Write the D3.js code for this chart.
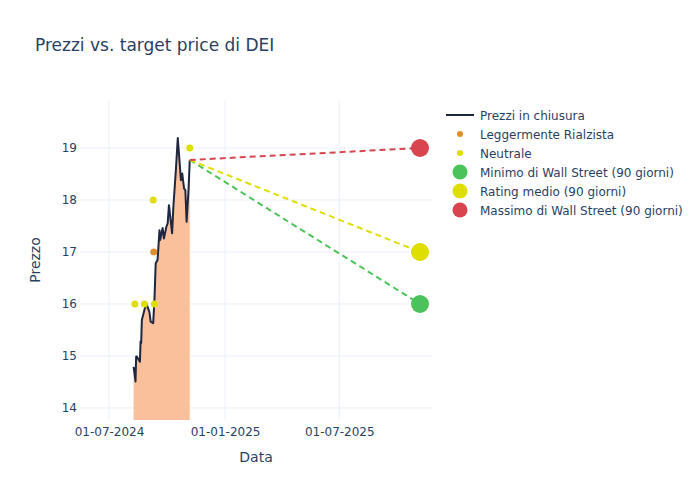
<!DOCTYPE html>
<html><head><meta charset="utf-8">
<script src="https://cdn.jsdelivr.net/npm/d3@7"></script>
<style>body{margin:0;background:#fff;} text{font-family:"DejaVu Sans",sans-serif;}</style>
</head><body><svg id="c" width="700" height="500"></svg>
<script>
const priceDates = ["2024-08-09","2024-08-12","2024-08-13","2024-08-14","2024-08-19","2024-08-20","2024-08-21","2024-08-22","2024-08-26","2024-08-29","2024-09-03","2024-09-05","2024-09-09","2024-09-11","2024-09-13","2024-09-16","2024-09-19","2024-09-20","2024-09-24","2024-09-26","2024-09-30","2024-10-02","2024-10-04","2024-10-07","2024-10-09","2024-10-11","2024-10-15","2024-10-18","2024-10-21","2024-10-23","2024-10-25","2024-10-28","2024-10-30","2024-11-01","2024-11-04","2024-11-06"];
const prices = [14.79,14.51,14.99,14.99,14.89,15.28,15.25,15.69,15.88,16.01,15.85,15.66,15.63,16.08,16.78,16.85,17.42,17.23,17.46,17.26,17.49,17.55,17.90,17.58,17.36,17.87,18.58,19.19,18.71,18.38,18.51,18.22,18.19,17.58,18.19,18.77];
const neutralDates = ["2024-08-11","2024-08-26","2024-09-11","2024-09-09","2024-11-06"];
const neutralValues = [16,16,16,18,19];
const bullishDates = ["2024-09-10"];
const bullishValues = [17];
const targetDate = "2025-11-06";
const targetNames = ["Minimo di Wall Street (90 giorni)","Rating medio (90 giorni)","Massimo di Wall Street (90 giorni)"];
const targetValues = [16,17,19];
const targetColors = ["#4cc35a","#dede00","#d8454f"];
const xTickDates = ["2024-07-01","2025-01-01","2025-07-01"];
const xTickLabels = ["01-07-2024","01-01-2025","01-07-2025"];
const yTicks = [14,15,16,17,18,19];

const P = d3.utcParse("%Y-%m-%d");
const svg = d3.select("#c");
const L=80,R=432,T=100,B=420;
const x = d3.scaleUtc().domain([P("2024-05-16"), P("2025-11-25")]).range([L,R]);
const y = d3.scaleLinear().domain([13.769,19.923]).range([B,T]);
const tc="#2a3f5f", grid="#ebf0f8";

// grid
svg.append("g").selectAll("line").data(yTicks).join("line")
  .attr("x1",L).attr("x2",R).attr("y1",d=>y(d)).attr("y2",d=>y(d)).attr("stroke",grid).attr("stroke-width",1);
svg.append("g").selectAll("line").data(xTickDates).join("line")
  .attr("y1",T).attr("y2",B).attr("x1",d=>x(P(d))).attr("x2",d=>x(P(d))).attr("stroke",grid).attr("stroke-width",1);

// axes
const ya = d3.axisLeft(y).tickValues(yTicks).tickFormat(d3.format("d")).tickSize(0).tickPadding(3);
const gy = svg.append("g").attr("transform",`translate(${L},0)`).call(ya);
gy.select(".domain").remove();
gy.selectAll("text").attr("fill",tc).attr("font-size",12).attr("font-family","DejaVu Sans");
const xa = d3.axisBottom(x).tickValues(xTickDates.map(P)).tickFormat((d,i)=>xTickLabels[i]).tickSize(0).tickPadding(7);
const gx = svg.append("g").attr("transform",`translate(0,${B})`).call(xa);
gx.select(".domain").remove();
gx.selectAll("text").attr("fill",tc).attr("font-size",12).attr("font-family","DejaVu Sans");

const pd = priceDates.map((d,i)=>({d:P(d),v:prices[i]}));
svg.append("defs").append("clipPath").attr("id","cp").append("rect").attr("x",L).attr("y",T).attr("width",R-L).attr("height",B-T);
const plot = svg.append("g").attr("clip-path","url(#cp)");
plot.append("path").datum(pd)
  .attr("d",d3.area().x(d=>x(d.d)).y0(B).y1(d=>y(d.v)))
  .attr("fill","#f9c09b");
plot.append("path").datum(pd)
  .attr("d",d3.line().x(d=>x(d.d)).y(d=>y(d.v)))
  .attr("fill","none").attr("stroke","#1e2640").attr("stroke-width",2).attr("stroke-linejoin","round");

const last = pd[pd.length-1];
targetValues.forEach((v,i)=>{
  plot.append("line").attr("x1",x(last.d)).attr("y1",y(last.v)).attr("x2",x(P(targetDate))).attr("y2",y(v))
    .attr("stroke",targetColors[i]).attr("stroke-width",2).attr("stroke-dasharray","6,4");
});
svg.append("g").selectAll("circle").data(bullishDates).join("circle")
  .attr("cx",d=>x(P(d))).attr("cy",(d,i)=>y(bullishValues[i])).attr("r",3.5).attr("fill","#dc8f2a");
svg.append("g").selectAll("circle").data(neutralDates).join("circle")
  .attr("cx",d=>x(P(d))).attr("cy",(d,i)=>y(neutralValues[i])).attr("r",3.5).attr("fill","#dede00");
svg.append("g").selectAll("circle").data(targetValues).join("circle")
  .attr("cx",x(P(targetDate))).attr("cy",d=>y(d)).attr("r",9).attr("fill",(d,i)=>targetColors[i]);

// titles
svg.append("text").attr("x",35).attr("y",51).attr("font-size",17).attr("fill",tc).text("Prezzi vs. target price di DEI");
svg.append("text").attr("x",(L+R)/2).attr("y",462).attr("text-anchor","middle").attr("font-size",14).attr("fill",tc).text("Data");
svg.append("text").attr("transform",`translate(40,${(T+B)/2}) rotate(-90)`).attr("text-anchor","middle").attr("font-size",14).attr("fill",tc).text("Prezzo");

// legend
const lg = svg.append("g");
const items = [
  {t:"Prezzi in chiusura",type:"line",c:"#1e2640"},
  {t:"Leggermente Rialzista",type:"s",c:"#dc8f2a"},
  {t:"Neutrale",type:"s",c:"#dede00"},
  {t:targetNames[0],type:"b",c:targetColors[0]},
  {t:targetNames[1],type:"b",c:targetColors[1]},
  {t:targetNames[2],type:"b",c:targetColors[2]}
];
items.forEach((it,i)=>{
  const yy = 115 + i*19;
  if(it.type==="line") lg.append("line").attr("x1",446).attr("x2",474).attr("y1",yy).attr("y2",yy).attr("stroke",it.c).attr("stroke-width",2);
  else lg.append("circle").attr("cx",460).attr("cy",yy).attr("r",it.type==="s"?3:7.5).attr("fill",it.c);
  lg.append("text").attr("x",480).attr("y",yy+4.5).attr("font-size",12).attr("fill",tc).text(it.t);
});
</script></body></html>
